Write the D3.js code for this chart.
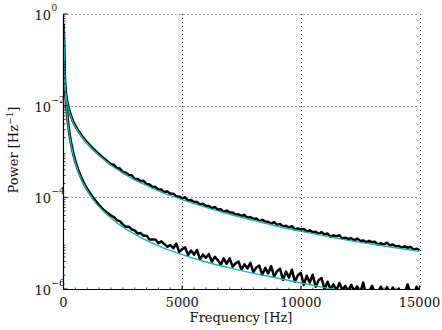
<!DOCTYPE html>
<html>
<head>
<meta charset="utf-8">
<script src="https://cdn.jsdelivr.net/npm/d3@7"></script>
<style>
  body { margin: 0; background: #fff; }
  text { font-family: "DejaVu Serif", "Liberation Serif", serif; fill: #111; }
</style>
</head>
<body>
<svg width="442" height="330"></svg>
<script>
// fitted spectra (log10 of power) at these frequencies
const fitFreq = [0, 30, 60, 100, 150, 250, 400, 600, 800, 1200, 1600, 2000, 2500, 3000, 3500, 4000,
  5000, 6000, 7000, 8000, 9000, 10000, 11000, 12000, 13000, 14000, 15000];
const upperFit = [-0.24, -1.05, -1.55, -1.75, -1.92, -2.14, -2.36, -2.55, -2.70, -2.94, -3.13, -3.30, -3.47, -3.62, -3.74, -3.86,
  -4.05, -4.22, -4.37, -4.50, -4.63, -4.74, -4.84, -4.94, -5.02, -5.10, -5.18];
const lowerFit = [-0.24, -1.05, -1.56, -1.88, -2.20, -2.64, -3.05, -3.41, -3.66, -4.01, -4.26, -4.45, -4.65, -4.80, -4.94, -5.06,
  -5.25, -5.41, -5.54, -5.66, -5.76, -5.87, -5.97, -6.06, -6.14, -6.21, -6.28];

// measured spectra: smooth low-frequency part
const startFreq = [0, 30, 60, 100, 150, 250, 400, 600, 800, 1200, 1600, 2000];
const upperStart = [-0.22, -1.03, -1.53, -1.73, -1.90, -2.12, -2.34, -2.53, -2.68, -2.92, -3.11, -3.28];
const lowerStart = [-0.22, -1.03, -1.54, -1.86, -2.17, -2.61, -3.02, -3.38, -3.63, -3.98, -4.23, -4.40];

// measured spectra: noisy part
const noiseFreq = [2000, 2125, 2250, 2375, 2500, 2625, 2750, 2875, 3000, 3125, 3250, 3375, 3500, 3625, 3750, 3875,
  4000, 4125, 4250, 4375, 4500, 4625, 4750, 4875, 5000, 5125, 5250, 5375, 5500, 5625, 5750, 5875,
  6000, 6125, 6250, 6375, 6500, 6625, 6750, 6875, 7000, 7125, 7250, 7375, 7500, 7625, 7750, 7875,
  8000, 8125, 8250, 8375, 8500, 8625, 8750, 8875, 9000, 9125, 9250, 9375, 9500, 9625, 9750, 9875,
  10000, 10125, 10250, 10375, 10500, 10625, 10750, 10875, 11000, 11125, 11250, 11375, 11500, 11625, 11750, 11875,
  12000, 12125, 12250, 12375, 12500, 12625, 12750, 12875, 13000, 13125, 13250, 13375, 13500, 13625, 13750, 13875,
  14000, 14125, 14250, 14375, 14500, 14625, 14750, 14875, 15000];
const upperNoisy = [-3.28, -3.29, -3.36, -3.37, -3.45, -3.46, -3.51, -3.52, -3.60, -3.60, -3.65, -3.64, -3.71, -3.72, -3.78, -3.77,
  -3.83, -3.83, -3.89, -3.87, -3.92, -3.92, -3.98, -3.98, -4.02, -4.00, -4.07, -4.06, -4.10, -4.10, -4.16, -4.14,
  -4.19, -4.19, -4.24, -4.21, -4.27, -4.26, -4.32, -4.29, -4.33, -4.33, -4.38, -4.37, -4.41, -4.38, -4.45, -4.43,
  -4.47, -4.46, -4.52, -4.49, -4.53, -4.53, -4.58, -4.54, -4.60, -4.58, -4.64, -4.62, -4.66, -4.63, -4.70, -4.68,
  -4.70, -4.69, -4.75, -4.72, -4.76, -4.75, -4.80, -4.76, -4.81, -4.79, -4.86, -4.83, -4.85, -4.83, -4.90, -4.88,
  -4.91, -4.89, -4.94, -4.90, -4.95, -4.94, -4.98, -4.95, -4.98, -4.97, -5.03, -5.00, -5.03, -4.99, -5.05, -5.03,
  -5.07, -5.06, -5.10, -5.07, -5.10, -5.08, -5.14, -5.12, -5.15];
const lowerNoisy = [-4.40, -4.43, -4.50, -4.52, -4.59, -4.64, -4.64, -4.70, -4.72, -4.79, -4.78, -4.84, -4.84, -4.92, -4.92, -4.92,
  -5.00, -4.96, -5.02, -5.08, -5.04, -5.11, -5.01, -5.19, -5.13, -5.09, -5.26, -5.16, -5.25, -5.15, -5.35, -5.25,
  -5.32, -5.24, -5.40, -5.30, -5.37, -5.47, -5.33, -5.45, -5.33, -5.51, -5.44, -5.40, -5.58, -5.46, -5.55, -5.43,
  -5.63, -5.53, -5.49, -5.69, -5.54, -5.66, -5.50, -5.73, -5.61, -5.56, -5.80, -5.62, -5.75, -5.58, -5.84, -5.70,
  -5.65, -5.91, -5.71, -5.86, -5.69, -5.95, -5.81, -5.76, -6.01, -5.84, -6.00, -5.90, -6.03, -5.87, -6.02, -5.93,
  -6.05, -5.91, -6.04, -5.94, -6.10, -5.86, -6.12, -6.05, -5.93, -6.10, -6.06, -5.95, -6.12, -5.96, -6.08, -5.97,
  -6.10, -5.99, -6.12, -6.08, -5.90, -6.10, -6.15, -5.95, -6.05];

const xTicks = [0, 5000, 10000, 15000];
const yTicks = [1e-6, 1e-4, 1e-2, 1];
const yExp = ["\u22126", "\u22124", "\u22122", "0"];

const svg = d3.select("svg");
const x = d3.scaleLinear().domain([0, 15000]).range([63.5, 419.5]);
const y = d3.scaleLog().domain([1e-6, 1]).range([289, 14]);

svg.append("clipPath").attr("id", "clip")
  .append("rect").attr("x", 63.5).attr("y", 10).attr("width", 357).attr("height", 279);

// grid
const grid = svg.append("g").attr("stroke", "#444").attr("stroke-width", 1).attr("stroke-dasharray", "1,3");
grid.selectAll(".gx").data(xTicks.slice(1)).enter().append("line")
  .attr("x1", d => Math.round(x(d)) + 0.5).attr("x2", d => Math.round(x(d)) + 0.5)
  .attr("y1", y(1)).attr("y2", y(1e-6));
grid.selectAll(".gy").data(yTicks.slice(1)).enter().append("line")
  .attr("x1", x(0)).attr("x2", x(15000))
  .attr("y1", d => Math.round(y(d)) + 0.5).attr("y2", d => Math.round(y(d)) + 0.5);

const px = d => x(d[0]);
const py = d => y(Math.pow(10, d[1]));
const smooth = d3.line().x(px).y(py).curve(d3.curveMonotoneX);
const jagged = d3.line().x(px).y(py);
const plot = svg.append("g").attr("clip-path", "url(#clip)");

[upperStart, lowerStart].forEach(s => {
  plot.append("path").attr("d", smooth(d3.zip(startFreq, s))).attr("fill", "none")
    .attr("stroke", "#000").attr("stroke-width", 2.8);
});
[upperNoisy, lowerNoisy].forEach(s => {
  plot.append("path").attr("d", jagged(d3.zip(noiseFreq, s))).attr("fill", "none")
    .attr("stroke", "#000").attr("stroke-width", 2.5).attr("stroke-linejoin", "round");
});
[upperFit, lowerFit].forEach(s => {
  plot.append("path").attr("d", smooth(d3.zip(fitFreq, s))).attr("fill", "none")
    .attr("stroke", "#1bb3b3").attr("stroke-width", 1.4);
});

// axes
const ax = svg.append("g").attr("stroke", "#000");
ax.append("line").attr("x1", 63.5).attr("x2", 63.5).attr("y1", y(1)).attr("y2", 289.5).attr("stroke-width", 1.2);
ax.append("line").attr("x1", 63).attr("x2", x(15000)).attr("y1", 289.5).attr("y2", 289.5).attr("stroke-width", 1.2);

// minor ticks (log on y, linear on x)
const minorY = [];
for (let e = -6; e < 0; e++) for (let m = 2; m < 10; m++) minorY.push(m * Math.pow(10, e));
ax.selectAll(".my").data(minorY).enter().append("line")
  .attr("x1", 63.5).attr("x2", 65.5)
  .attr("y1", d => y(d)).attr("y2", d => y(d)).attr("stroke-width", 0.8);
ax.selectAll(".mx").data(d3.range(500, 15000, 500)).enter().append("line")
  .attr("x1", d => x(d)).attr("x2", d => x(d))
  .attr("y1", 289.5).attr("y2", 287.5).attr("stroke-width", 0.8);
ax.selectAll(".Mx").data(xTicks).enter().append("line")
  .attr("x1", d => x(d)).attr("x2", d => x(d))
  .attr("y1", 289.5).attr("y2", 285.5).attr("stroke-width", 1);
ax.selectAll(".My").data(yTicks).enter().append("line")
  .attr("x1", 63.5).attr("x2", 67.5)
  .attr("y1", d => y(d)).attr("y2", d => y(d)).attr("stroke-width", 1);

// tick labels
svg.selectAll(".xl").data(xTicks).enter().append("text")
  .attr("x", d => x(d)).attr("y", 307).attr("text-anchor", "middle")
  .attr("font-size", 13).text(d => d);
svg.selectAll(".yl").data(yTicks).enter().append("text")
  .attr("x", 51).attr("y", d => y(d) + 6).attr("text-anchor", "end")
  .attr("font-size", 13).text("10");
svg.selectAll(".ye").data(yTicks).enter().append("text")
  .attr("x", 51.5).attr("y", d => y(d) - 3).attr("text-anchor", "start")
  .attr("font-size", 9).text((d, i) => yExp[i]);

// axis titles
svg.append("text").attr("x", 241).attr("y", 322).attr("text-anchor", "middle")
  .attr("font-size", 13).text("Frequency [Hz]");
const yl = svg.append("text").attr("transform", "translate(18,150) rotate(-90)")
  .attr("text-anchor", "middle").attr("font-size", 13);
yl.append("tspan").text("Power [Hz");
yl.append("tspan").attr("dy", -5).attr("font-size", 9).text("\u22121");
yl.append("tspan").attr("dy", 5).text("]");
</script>
</body>
</html>
